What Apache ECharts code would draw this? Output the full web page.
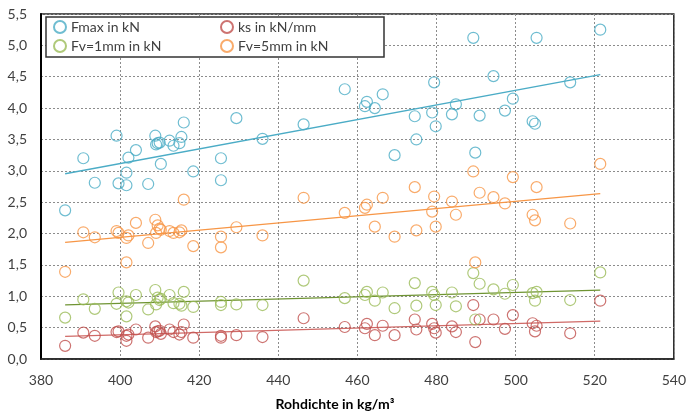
<!DOCTYPE html>
<html>
<head>
<meta charset="utf-8">
<script src="https://cdn.jsdelivr.net/npm/echarts@6/dist/echarts.min.js"></script>
<style>
html,body{margin:0;padding:0;background:#fff;}
#c{width:689px;height:416px;}
</style>
</head>
<body>
<div id="c"></div>
<script>
const rohdichte = [386.1,390.7,393.6,399.1,399.6,401.6,401.6,402.1,404.0,407.1,
  408.9,409.1,409.5,410.0,410.3,412.5,413.5,415.0,415.5,416.1,418.5,
  425.5,425.5,429.4,436.0,446.4,456.8,461.9,462.4,464.4,466.4,469.4,
  474.5,474.9,478.9,479.4,479.8,483.9,484.9,489.3,489.8,490.9,494.4,
  497.3,499.3,504.3,504.9,505.3,513.8,521.4];
const fmax = [2.37,3.20,2.81,3.56,2.80,2.97,2.77,3.21,3.33,2.79,
  3.56,3.42,3.44,3.45,3.11,3.48,3.40,3.44,3.54,3.77,2.99,
  3.20,2.85,3.84,3.51,3.74,4.30,4.03,4.10,4.00,4.22,3.25,
  3.87,3.50,3.93,4.41,3.71,3.90,4.06,5.12,3.29,3.88,4.51,
  3.96,4.15,3.79,3.75,5.12,4.41,5.25];
const ks = [0.21,0.42,0.37,0.43,0.44,0.29,0.37,0.39,0.47,0.34,
  0.52,0.43,0.44,0.45,0.40,0.47,0.43,0.39,0.43,0.55,0.34,
  0.37,0.34,0.38,0.35,0.65,0.51,0.49,0.56,0.38,0.53,0.38,
  0.63,0.47,0.56,0.49,0.42,0.52,0.43,0.86,0.27,0.63,0.63,
  0.48,0.70,0.57,0.44,0.53,0.41,0.93];
const fv1 = [0.66,0.95,0.80,0.88,1.06,0.68,0.92,0.90,1.02,0.79,
  1.10,0.87,0.98,0.94,0.96,1.02,0.89,0.88,0.85,1.07,0.83,
  0.91,0.86,0.87,0.86,1.25,0.97,1.02,1.07,0.93,1.06,0.81,
  1.21,0.85,1.07,1.02,0.86,1.06,0.84,1.37,0.63,1.20,1.11,
  1.04,1.18,1.05,0.93,1.07,0.94,1.38];
const fv5 = [1.39,2.02,1.94,2.04,2.01,1.54,1.93,1.97,2.17,1.85,
  2.22,2.01,2.13,2.08,2.06,2.04,2.01,2.02,2.05,2.54,1.80,
  1.95,1.78,2.10,1.97,2.57,2.33,2.41,2.46,2.11,2.57,1.95,
  2.74,2.05,2.35,2.59,2.11,2.51,2.30,2.99,1.54,2.65,2.58,
  2.48,2.90,2.30,2.21,2.74,2.16,3.11];
const seriesNames = ['Fmax in kN','ks in kN/mm','Fv=1mm in kN','Fv=5mm in kN'];
const xTicks = {min:380, max:540, step:20};
const yTicks = {min:0, max:5.5, step:0.5};

const F = 'Lato, "Open Sans", sans-serif';
const colors = ['#4bacc6','#c0504d','#9bbb59','#f79646'];
const trendColors = ['#4bacc6','#d06a67','#6f9433','#f79646'];
const values = [fmax, ks, fv1, fv5];

function regLine(xs, ys){
  const n = xs.length;
  let sx=0, sy=0, sxx=0, sxy=0;
  for(let i=0;i<n;i++){sx+=xs[i];sy+=ys[i];sxx+=xs[i]*xs[i];sxy+=xs[i]*ys[i];}
  const b = (n*sxy - sx*sy)/(n*sxx - sx*sx);
  const a = (sy - b*sx)/n;
  const x0 = Math.min(...xs), x1 = Math.max(...xs);
  return [[x0, a+b*x0],[x1, a+b*x1]];
}

const series = [];
values.forEach((vals,i)=>{
  series.push({
    name: seriesNames[i], type:'scatter', symbol:'circle', symbolSize:11,
    itemStyle:{color:'rgba(255,255,255,0)', borderColor:colors[i], borderWidth:1.2},
    data: rohdichte.map((x,k)=>[x, vals[k]]), z:3
  });
});
values.forEach((vals,i)=>{
  series.push({
    name: seriesNames[i]+' trend', type:'line', showSymbol:false, silent:true,
    lineStyle:{color:trendColors[i], width:1.3},
    data: regLine(rohdichte, vals), z:2
  });
});

const chart = echarts.init(document.getElementById('c'));
chart.setOption({
  animation:false,
  grid:{left:41, right:13, top:14, bottom:56, show:true, borderColor:'#222', borderWidth:1.5, backgroundColor:'#fff'},
  legend:{
    data: seriesNames, left:46, top:17, width:336,
    padding:[2,0,3,7], itemGap:3, itemWidth:12, itemHeight:12,
    borderColor:'#333', borderWidth:1.5, backgroundColor:'#fff',
    textStyle:{fontFamily:F, fontSize:14, color:'#404040', width:146, lineHeight:16}
  },
  xAxis:{
    type:'value', min:xTicks.min, max:xTicks.max, interval:xTicks.step,
    name:'Rohdichte in kg/m³', nameLocation:'middle', nameGap:38,
    nameTextStyle:{fontFamily:F, fontSize:14, fontWeight:'bold', color:'#000', padding:[0,45,0,0]},
    axisLine:{lineStyle:{color:'#222', width:1.5}},
    axisTick:{show:false},
    axisLabel:{fontFamily:F, fontSize:14, color:'#404040', margin:14},
    splitLine:{lineStyle:{color:'#8c8c8c', type:[2,2], width:1}}
  },
  yAxis:{
    type:'value', min:yTicks.min, max:yTicks.max, interval:yTicks.step,
    axisLine:{show:true, lineStyle:{color:'#000', width:2}},
    axisTick:{show:false},
    axisLabel:{fontFamily:F, fontSize:14, color:'#404040', margin:14,
      formatter:v=>v.toFixed(1).replace('.',',')},
    splitLine:{lineStyle:{color:'#8c8c8c', type:[2,2], width:1}}
  },
  series: series
});
</script>
</body>
</html>
